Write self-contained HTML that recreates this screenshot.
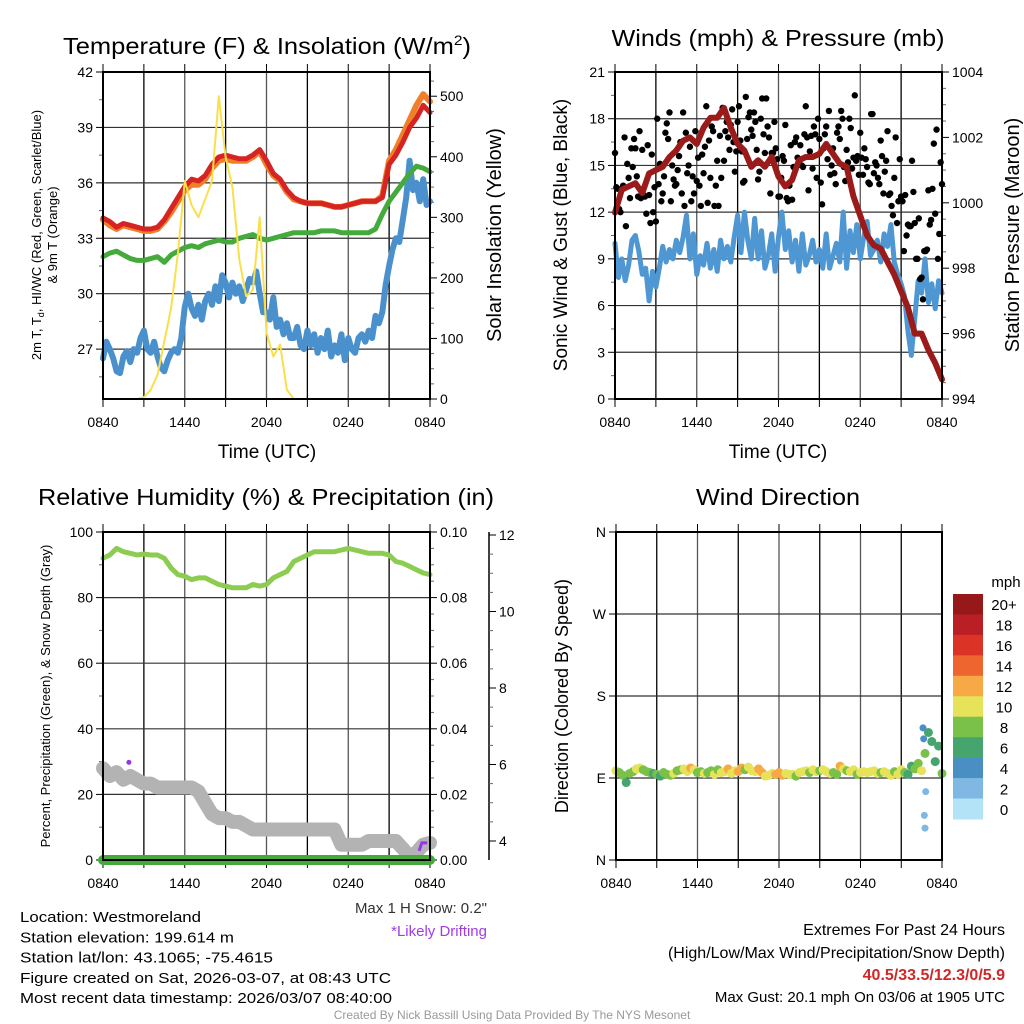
<!DOCTYPE html>
<html><head><meta charset="utf-8"><style>
body{margin:0;background:#fff}
svg{display:block;font-family:"Liberation Sans",sans-serif}
</style></head><body>
<svg id="s" width="1024" height="1024" viewBox="0 0 1024 1024">
<rect width="1024" height="1024" fill="#fff"/>
</svg>
<script>
// ---------- DATA ----------
const timeLabels = ["0840","1440","2040","0240","0840"];
const tempRed = [34.1,33.9,33.6,33.8,33.7,33.6,33.5,33.5,33.6,34.0,34.6,35.2,35.8,36.2,36.1,36.4,37.0,37.4,37.5,37.4,37.3,37.3,37.5,37.8,37.2,36.5,36.2,35.6,35.2,35.0,34.9,34.9,34.9,34.8,34.7,34.7,34.8,34.9,35.0,35.0,35.0,35.2,37.0,37.5,38.2,39.0,39.5,40.2,39.8];
const tempOrange = [34.0,33.7,33.5,33.7,33.6,33.5,33.4,33.4,33.5,33.9,34.4,35.0,35.6,35.9,35.9,36.2,36.8,37.2,37.3,37.2,37.2,37.2,37.4,37.7,37.0,36.4,36.1,35.5,35.1,35.0,34.9,34.9,34.9,34.8,34.7,34.7,34.8,34.9,35.0,35.0,35.0,35.3,37.2,37.8,38.6,39.4,40.2,40.8,40.4];
const tempGreen = [32.0,32.2,32.3,32.1,31.9,31.8,31.8,31.9,32.0,31.7,32.1,32.3,32.5,32.6,32.5,32.7,32.8,32.9,32.8,32.8,33.0,33.1,33.2,33.0,32.9,33.0,33.1,33.2,33.3,33.3,33.3,33.3,33.4,33.4,33.4,33.3,33.3,33.3,33.3,33.3,33.5,34.3,35.0,35.5,36.0,36.5,36.9,36.8,36.6];
const dewBlue = [26.5,27.4,27.0,26.5,25.8,25.7,26.6,26.9,26.3,27.0,26.8,27.6,28.0,27.0,26.8,27.4,26.6,26.0,25.8,26.4,26.8,27.0,26.8,27.6,29.3,30.0,29.2,28.8,29.4,28.6,29.6,30.0,29.4,30.4,29.6,31.0,30.6,29.8,30.6,30.0,30.4,29.6,30.2,30.8,30.6,31.2,30.0,29.0,29.0,28.6,29.8,28.2,28.6,27.8,28.4,27.6,27.6,28.2,27.2,27.0,28.0,27.2,27.8,26.8,27.6,27.0,28.0,26.6,27.2,26.8,27.8,26.4,27.6,27.0,26.8,27.6,27.8,27.4,28.0,27.6,28.8,28.4,29.0,30.5,31.5,32.4,33.0,32.8,34.0,35.2,37.2,35.6,36.0,35.0,36.2,34.8,35.0];
const solar = [0,0,0,0,0,0,3,15,40,95,150,240,360,320,300,330,360,500,400,350,230,170,180,300,110,70,90,15,0,0,0,0,0,0,0,0,0,0,0,0,0,0,0,0,0,0,0,0,0];
const windSpeed = [10,7.8,9,7.6,8.6,10.2,10.5,9.5,8,8.4,6.3,8.2,7.2,8.4,9.8,8.8,9.6,9.0,10.2,9.4,10.4,11.8,9.0,10.6,8.0,9.2,8.6,10.0,8.4,9.6,8.2,10.2,9.0,9.8,8.8,10.4,11.8,9.4,12.0,10.2,9.0,11.6,9.0,10.8,8.4,9.2,10.6,8.2,10.4,12.0,9.6,10.8,8.8,10.2,8.2,10.6,8.6,9.2,10.2,8.8,9.6,8.4,10.6,8.4,9.2,10.0,8.8,12.0,8.4,10.8,9.4,11.2,9.0,10.4,11.4,9.2,9.6,10.2,8.8,10.6,9.8,11.2,8.8,8.0,7.4,6.6,4.4,2.8,5.2,7.6,6.8,9.0,6.2,7.4,5.8,7.6,6.8];
const gusts = [15.8,13.5,12.0,13.7,11.1,14.2,16.1,16.7,14.3,17.2,16.0,13.0,16.3,11.3,12.0,11.4,13.8,12.7,14.3,17.7,18.4,15.0,13.7,14.7,16.5,18.4,17.1,15.0,12.7,13.2,14.0,13.7,15.7,16.2,12.6,14.2,17.2,13.7,12.4,14.2,15.3,17.8,16.0,18.6,14.6,17.8,16.6,13.9,19.4,18.1,17.3,18.4,16.0,14.6,19.3,15.8,17.5,13.2,15.8,16.1,13.0,14.2,15.3,12.9,13.7,12.8,16.5,15.5,16.3,14.9,18.8,13.4,16.9,17.5,14.2,16.7,12.5,17.0,15.4,14.4,16.1,13.8,17.5,18.5,14.9,16.0,18.0,14.8,19.5,15.6,17.1,14.4,15.4,13.9,18.3,14.5,15.0,13.8,15.6,14.6,17.2,13.2,11.8,16.8,12.7,13.0,9.5,10.5,11.1,15.3,11.3,9.0,7.7,6.4,9.5,13.4,11.5,16.4,17.3,10.6,13.8];
const gusts2 = [13.6,12.2,13.5,16.8,15.1,12.9,14.9,16.1,13.0,12.9,13.1,11.9,13.1,15.7,13.6,18.0,15.1,13.2,17.1,16.7,12.7,14.1,13.8,15.6,13.2,12.4,14.5,16.2,14.3,17.2,15.5,12.4,14.5,18.8,16.6,17.5,12.4,15.3,16.9,18.7,17.2,16.8,17.6,16.5,15.9,18.8,15.9,14.0,16.7,18.4,16.9,17.8,14.1,18.0,17.0,19.3,16.8,15.8,17.8,15.4,13.0,15.6,17.6,12.7,16.3,14.9,16.8,15.4,15.0,17.0,16.8,15.9,14.8,17.0,18.0,13.9,16.1,17.5,18.5,15.0,14.5,17.1,16.7,18.0,14.0,15.2,17.4,15.5,15.3,14.4,15.5,16.1,14.9,13.8,18.3,15.2,14.2,16.6,13.2,15.3,13.1,12.4,14.2,11.3,15.4,12.7,13.1,11.2,11.1,13.3,9.0,11.6,7.8,9.5,9.6,11.2,13.5,11.9,9.0,15.2];
const pressure = [999.7,1000.4,1000.5,1000.6,1000.3,1000.9,1001.0,1001.1,1001.4,1001.6,1001.9,1002.0,1001.8,1002.3,1002.6,1002.6,1002.9,1002.3,1001.8,1001.6,1001.1,1001.3,1001.1,1001.4,1000.8,1000.5,1000.7,1001.3,1001.4,1001.4,1001.5,1001.8,1001.5,1001.2,1001.1,1000.2,999.6,999.0,998.7,998.6,998.2,997.8,997.3,996.8,996.0,996.0,995.5,995.1,994.6];
const rh = [92,93,95,94,93.5,93,93.3,93,93,92,89,87,86.5,85.5,86,86,85,84,83.5,83,83,83,84,83.5,84,86,87,88,91,92,93,94,94,94,94,94.5,95,94.5,94,93.5,93.5,93.5,93,91,90.5,89.5,88.5,87.5,87];
const snowDepth = [5.9,5.7,5.8,5.6,5.7,5.6,5.5,5.5,5.4,5.4,5.4,5.4,5.4,5.4,5.3,5.0,4.7,4.6,4.6,4.5,4.5,4.4,4.3,4.3,4.3,4.3,4.3,4.3,4.3,4.3,4.3,4.3,4.3,4.3,4.3,3.9,3.9,3.9,3.9,4.0,4.0,4.0,4.0,4.0,3.8,3.6,3.7,3.9,3.95];
const precip = [0,0,0,0,0,0,0,0,0,0,0,0,0,0,0,0,0,0,0,0,0,0,0,0,0,0,0,0,0,0,0,0,0,0,0,0,0,0,0,0,0,0,0,0,0,0,0,0,0];
const windDir = [98,96,93,85,95,97,100,101,99,97,96,95,94,92,96,94,93,95,98,99,100,97,101,99,96,97,95,96,98,94,99,96,97,100,95,98,97,101,99,102,98,97,100,96,92,93,95,94,96,93,95,94,94,92,96,97,98,96,99,97,98,99,97,95,96,94,103,100,98,97,99,94,96,97,96,97,98,95,96,97,95,93,97,94,99,96,94,103,100,106,98,117,140,130,108,125,95];
const dirSpeed = [10,8,8,7,9,9,10,10,9,9,8,7,8,6,8,8,9,10,8,9,10,11,13,10,8,9,10,8,9,10,9,10,11,12,10,11,12,13,9,11,10,10,13,12,10,10,11,13,12,12,10,10,11,8,10,10,11,9,10,10,8,10,11,10,9,8,12,10,9,10,11,9,10,11,10,10,10,10,8,11,10,10,8,10,11,9,7,6,8,9,10,8,7,7,6,7,8];
const extraDirT = [22.6,22.65,22.8,22.7,22.75];
const extraDir = [145,133,75,49,35];
const extraSpd = [4,4,2,2,2];
const cbLabels = ["20+","18","16","14","12","10","8","6","4","2","0"];
const cbColors = ["#961818","#bb1f26","#dc3327","#ef6530","#f7a945","#e6e35a","#7ac14a","#46a56f","#4a8fc4","#7fb9e3","#b3e3f7"];

// ---------- HELPERS ----------
const S=document.getElementById('s');const NS="http://www.w3.org/2000/svg";
function mk(tag,a,parent){const e=document.createElementNS(NS,tag);for(const k in a)e.setAttribute(k,a[k]);(parent||S).appendChild(e);return e;}
function txt(x,y,s,a,parent){const e=mk('text',Object.assign({x:x,y:y,'font-size':14,fill:'#000'},a||{}),parent);e.textContent=s;return e;}
function lin(d0,d1,r0,r1){return v=>r0+(v-d0)/(d1-d0)*(r1-r0);}
function tarr(n){const a=[];for(let i=0;i<n;i++)a.push(i*24/(n-1));return a;}
function poly(xs,arr,tx,fy,attrs){const p=arr.map((v,i)=>tx(xs[i]).toFixed(1)+","+fy(v).toFixed(1)).join(" ");return mk('polyline',Object.assign({points:p,fill:'none','stroke-linejoin':'round','stroke-linecap':'round'},attrs));}

function frame(L,R,T,B,name){
  const g=mk('g',{});
  const tx=lin(0,24,L,R);
  for(let h=0;h<=24;h+=3){const x=tx(h);
    mk('line',{x1:x,y1:T,x2:x,y2:B,stroke:(h%6==3?'#000':'#555'),'stroke-width':1.3},g);
    mk('line',{x1:x,y1:T,x2:x,y2:T-8,stroke:'#000','stroke-width':1},g);
    mk('line',{x1:x,y1:B,x2:x,y2:B+8,stroke:'#000','stroke-width':1},g);}
  timeLabels.forEach((l,i)=>{const t=txt(tx(i*6),B+28,l,{'text-anchor':'middle','font-size':14},g);});
  return {g,tx};
}
function border(L,R,T,B){mk('rect',{x:L,y:T,width:R-L,height:B-T,fill:'none',stroke:'#000','stroke-width':2});}
function yaxis(g,x,vals,labels,fy,side,minor,grid,L,R){
  vals.forEach((v,i)=>{const y=fy(v);
    if(grid)mk('line',{x1:L,y1:y,x2:R,y2:y,stroke:'#333','stroke-width':1.2},g);
    mk('line',{x1:x,y1:y,x2:x+(side<0?-7:7),y2:y,stroke:'#000','stroke-width':1},g);
    const t=txt(x+(side<0?-10:10),y+5,labels[i],{'text-anchor':side<0?'end':'start','font-size':14},g);
    });
  minor.forEach(v=>{const y=fy(v);mk('line',{x1:x,y1:y,x2:x+(side<0?-4:4),y2:y,stroke:'#666','stroke-width':1},g);});
}
function rot(x,y,s,size,name){const t=txt(x,y,s,{'font-size':size,'text-anchor':'middle',transform:`rotate(-90 ${x} ${y})`});return t;}
function title(x,y,s,w,name){const t=txt(x,y,s,{'font-size':23,'text-anchor':'middle',textLength:w,lengthAdjust:'spacingAndGlyphs'});return t;}
function speedColor(s){let i=Math.floor(s/2);if(i>10)i=10;if(i<0)i=0;return cbColors[10-i];}

// ---------- PANEL 1: TEMPERATURE ----------
(function(){
const L=103,R=430,T=72,B=399;
const {g,tx}=frame(L,R,T,B,'temperature-panel');
const fy=lin(42,24.3,T,B), fs=lin(0,540,B,T);
yaxis(g,L,[27,30,33,36,39,42],["27","30","33","36","39","42"],fy,-1,[25.5,28.5,31.5,34.5,37.5,40.5],true,L,R);
yaxis(g,R,[0,100,200,300,400,500],["0","100","200","300","400","500"],fs,1,[25,50,75,125,150,175,225,250,275,325,350,375,425,450,475,525],false,L,R);
const t49=tarr(49);
let e=poly(tarr(dewBlue.length),dewBlue,tx,fy,{stroke:'#4a90cc','stroke-width':6});
e=poly(t49,tempGreen,tx,fy,{stroke:'#44aa3c','stroke-width':5});
e=poly(t49,tempOrange,tx,fy,{stroke:'#f07f2a','stroke-width':6});
e=poly(t49,tempRed,tx,fy,{stroke:'#d62422','stroke-width':5});
e=poly(tarr(solar.length),solar,tx,fs,{stroke:'#f9e04b','stroke-width':2});
border(L,R,T,B);
const tt=title(267,54,"",408,'temperature-title');tt.innerHTML='Temperature (F) &amp; Insolation (W/m<tspan font-size="14" dy="-9">2</tspan><tspan dy="9">)</tspan>';
rot(41,235,"",13,'temperature-y-title').innerHTML='2m T, T<tspan font-size="9" dy="3">d</tspan><tspan dy="-3">, HI/WC (Red, Green, Scarlet/Blue)</tspan>';
rot(57,235,"& 9m T (Orange)",13,'temperature-y-title-2');
rot(501,235,"Solar Insolation (Yellow)",20,'solar-y-title');
const xt=txt(267,458,"Time (UTC)",{'font-size':19,'text-anchor':'middle'});
})();

// ---------- PANEL 2: WINDS ----------
(function(){
const L=615,R=942,T=72,B=399;
const {g,tx}=frame(L,R,T,B,'winds-panel');
const fy=lin(0,21,B,T), fp=lin(994,1004,B,T);
yaxis(g,L,[0,3,6,9,12,15,18,21],["0","3","6","9","12","15","18","21"],fy,-1,[1.5,4.5,7.5,10.5,13.5,16.5,19.5],true,L,R);
yaxis(g,R,[994,996,998,1000,1002,1004],["994","996","998","1000","1002","1004"],fp,1,[994.5,995,995.5,996.5,997,997.5,998.5,999,999.5,1000.5,1001,1001.5,1002.5,1003,1003.5],false,L,R);
let e=poly(tarr(windSpeed.length),windSpeed,tx,fy,{stroke:'#4f97d2','stroke-width':5});
const tg=tarr(gusts.length);
gusts.forEach((v,i)=>{const c=mk('circle',{cx:tx(tg[i]),cy:fy(v),r:3.2,fill:'#000'});});
gusts2.forEach((v,i)=>{const t=Math.min(24,0.1+i*0.2);const c=mk('circle',{cx:tx(t),cy:fy(v),r:3.2,fill:'#000'});});
e=poly(tarr(pressure.length),pressure,tx,fp,{stroke:'#9b1a1a','stroke-width':6});
border(L,R,T,B);
title(778,46,"Winds (mph) & Pressure (mb)",333,'winds-title');
rot(567,235,"Sonic Wind & Gust (Blue, Black)",19,'wind-y-title');
rot(1019,235,"Station Pressure (Maroon)",20,'pressure-y-title');
const xt=txt(778,458,"Time (UTC)",{'font-size':19,'text-anchor':'middle'});
})();

// ---------- PANEL 3: RH ----------
(function(){
const L=103,R=430,T=532,B=860;
const {g,tx}=frame(L,R,T,B,'humidity-panel');
const fy=lin(0,100,B,T), fpr=lin(0,0.1,B,T), fsn=lin(4,12,841,535);
yaxis(g,L,[0,20,40,60,80,100],["0","20","40","60","80","100"],fy,-1,[10,30,50,70,90],true,L,R);
yaxis(g,R,[0,0.02,0.04,0.06,0.08,0.1],["0.00","0.02","0.04","0.06","0.08","0.10"],fpr,1,[0.005,0.01,0.015,0.025,0.03,0.035,0.045,0.05,0.055,0.065,0.07,0.075,0.085,0.09,0.095],false,L,R);
mk('line',{x1:489,y1:T,x2:489,y2:B,stroke:'#000','stroke-width':1.5},g);
yaxis(g,489,[4,6,8,10,12],["4","6","8","10","12"],fsn,1,[4.5,5,5.5,6.5,7,7.5,8.5,9,9.5,10.5,11,11.5],false,L,R);
const t49=tarr(49);
let e=poly(t49,snowDepth,tx,fsn,{stroke:'#b3b3b3','stroke-width':14});
e=poly(t49,rh,tx,fy,{stroke:'#8ccc50','stroke-width':5});
e=poly(t49,precip,tx,fpr,{stroke:'#44aa3c','stroke-width':10});
mk('circle',{cx:tx(1.9),cy:fsn(5.9)-6,r:2.5,fill:'#9933ee'});
mk('polyline',{points:`${tx(23.2)},${fsn(3.9)+6} ${tx(23.4)},${fsn(3.95)} ${tx(23.8)},${fsn(3.95)}`,fill:'none',stroke:'#9933ee','stroke-width':3});
border(L,R,T,B);
title(266,505,"Relative Humidity (%) & Precipitation (in)",456,'humidity-title');
rot(50,696,"Percent, Precipitation (Green), & Snow Depth (Gray)",13,'humidity-y-title');
})();

// ---------- PANEL 4: WIND DIRECTION ----------
(function(){
const L=616,R=942,T=532,B=860;
const {g,tx}=frame(L,R,T,B,'wind-direction-panel');
const fy=lin(0,360,B,T);
yaxis(g,L,[0,90,180,270,360],["N","E","S","W","N"],fy,-1,[],true,L,R);
const td=tarr(windDir.length);
windDir.forEach((v,i)=>{const c=mk('circle',{cx:tx(td[i]),cy:fy(v),r:4.5,fill:speedColor(dirSpeed[i])});});
extraDir.forEach((v,i)=>{const c=mk('circle',{cx:tx(extraDirT[i]),cy:fy(v),r:3.5,fill:speedColor(extraSpd[i])});});
border(L,R,T,B);
title(778,505,"Wind Direction",164,'wind-direction-title');
rot(568,696,"Direction (Colored By Speed)",18,'direction-y-title');
const cb=mk('g',{});
const ch=(819-594)/11;
cbColors.forEach((c,i)=>{mk('rect',{x:953,y:594+i*ch,width:30,height:ch+0.5,fill:c},cb);txt(1004,594+i*ch+ch/2+6,cbLabels[i],{'text-anchor':'middle','font-size':15},cb);});
txt(1006,587,"mph",{'text-anchor':'middle','font-size':15},cb);
})();

// ---------- FOOTER ----------
const left=["Location: Westmoreland","Station elevation: 199.614 m","Station lat/lon: 43.1065; -75.4615","Figure created on Sat, 2026-03-07, at 08:43 UTC","Most recent data timestamp: 2026/03/07 08:40:00"];
const lw=[181,214,253,371,372];
left.forEach((s,i)=>{const t=txt(20,922+i*20.3,s,{'font-size':15,textLength:lw[i],lengthAdjust:'spacingAndGlyphs'});});
let f=txt(487,913,'Max 1 H Snow: 0.2"',{'font-size':15,'text-anchor':'end',fill:'#333'});
f=txt(487,936,'*Likely Drifting',{'font-size':15,'text-anchor':'end',fill:'#a13be8'});
f=txt(1005,935,'Extremes For Past 24 Hours',{'font-size':16,'text-anchor':'end'});
f=txt(1005,958,'(High/Low/Max Wind/Precipitation/Snow Depth)',{'font-size':16,'text-anchor':'end'});
f=txt(1005,980,'40.5/33.5/12.3/0/5.9',{'font-size':16,'text-anchor':'end',fill:'#d02828','font-weight':'bold'});
f=txt(1005,1002,'Max Gust: 20.1 mph On 03/06 at 1905 UTC',{'font-size':15,'text-anchor':'end'});
f=txt(512,1019,'Created By Nick Bassill Using Data Provided By The NYS Mesonet',{'font-size':12,'text-anchor':'middle',fill:'#999'});
</script>
</body></html>
